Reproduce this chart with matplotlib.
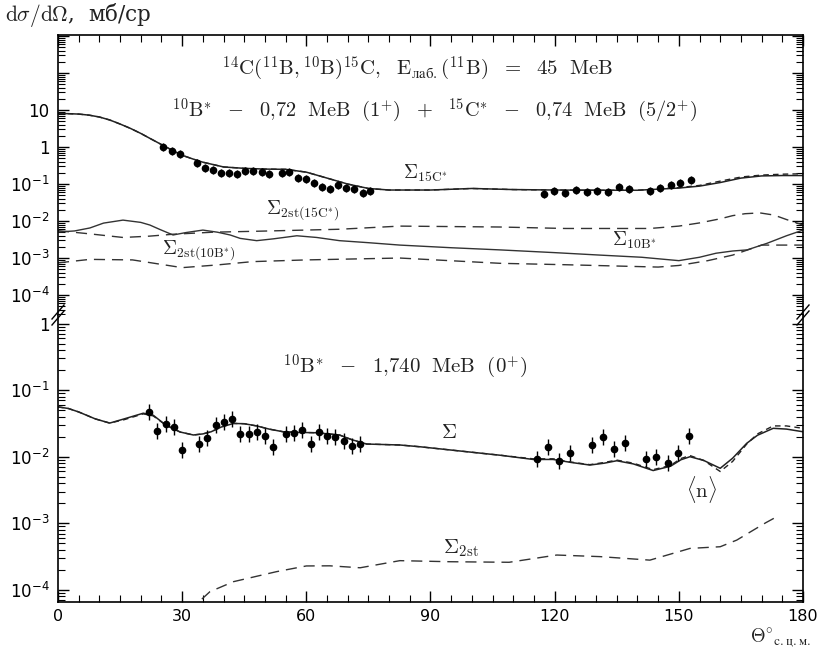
import numpy as np
import matplotlib
matplotlib.use("Agg")
import matplotlib.pyplot as plt
from matplotlib.ticker import FixedLocator, LogLocator, NullFormatter, FuncFormatter

# ---- upper panel: 10B* 0.72 MeV + 15C* 0.74 MeV ----
exp1_ang = [25.4, 27.5, 29.5, 33.5, 35.5, 37.4, 39.3, 41.2, 43.2, 45.2, 47.2, 49.2, 51.0,
            54.0, 55.9, 57.9, 59.9, 61.9, 63.8, 65.7, 67.7, 69.7, 71.6, 73.6, 75.4,
            117.4, 119.9, 122.5, 125.1, 127.7, 130.3, 133.0, 135.5, 138.0, 143.0, 145.5,
            148.0, 150.4, 152.9]
exp1_val = [1.02, 0.79, 0.65, 0.38, 0.265, 0.24, 0.20, 0.195, 0.187, 0.22, 0.224, 0.21, 0.187,
            0.20, 0.21, 0.143, 0.134, 0.108, 0.0845, 0.072, 0.094, 0.0766, 0.072, 0.056, 0.066,
            0.054, 0.066, 0.056, 0.069, 0.060, 0.065, 0.062, 0.082, 0.075, 0.066, 0.077,
            0.094, 0.104, 0.129]

sum1_ang = [0, 2.5, 5, 7.5, 10, 12.5, 15, 17.5, 20, 22.5, 25, 27.5, 30, 32.5, 35, 40, 45, 50,
            55, 60, 65, 70, 75, 80, 90, 100, 110, 120, 130, 140, 150, 155, 160, 165, 170,
            175, 180]
sum1_val = [8.1, 8.0, 7.8, 7.3, 6.5, 5.4, 4.2, 3.2, 2.34, 1.65, 1.17, 0.83, 0.6, 0.48, 0.39,
            0.29, 0.266, 0.254, 0.25, 0.21, 0.145, 0.1, 0.076, 0.069, 0.069, 0.076, 0.071,
            0.069, 0.068, 0.068, 0.078, 0.088, 0.11, 0.145, 0.166, 0.17, 0.17]
sum1d_val = [8.1, 8.0, 7.8, 7.3, 6.5, 5.4, 4.2, 3.2, 2.34, 1.65, 1.17, 0.83, 0.6, 0.48, 0.39,
             0.29, 0.266, 0.254, 0.25, 0.21, 0.145, 0.1, 0.076, 0.069, 0.069, 0.076, 0.071,
             0.069, 0.068, 0.068, 0.08, 0.092, 0.12, 0.155, 0.175, 0.185, 0.19]

s10b_ang = [0, 4, 7.7, 11, 15.7, 20, 22.2, 24.5, 27.8, 31, 35, 38.5, 41.6, 44, 48, 52, 57.7,
            62.5, 68, 75, 82.6, 95, 106.8, 120, 131, 141, 150, 155, 159, 163, 166.5, 171.3,
            176, 180]
s10b_val = [5.05e-3, 5.4e-3, 6.5e-3, 8.8e-3, 1.06e-2, 9.2e-3, 7.8e-3, 6.0e-3, 4.2e-3, 4.9e-3,
            5.7e-3, 5.0e-3, 4.2e-3, 3.4e-3, 2.95e-3, 3.3e-3, 4.0e-3, 3.6e-3, 2.95e-3, 2.6e-3,
            2.24e-3, 1.9e-3, 1.66e-3, 1.4e-3, 1.2e-3, 1.05e-3, 8.5e-4, 1.05e-3, 1.35e-3,
            1.55e-3, 1.66e-3, 2.5e-3, 4.0e-3, 5.7e-3]

s2st15c_ang = [0, 7.7, 15.7, 22, 27.8, 37.5, 48, 68, 82.6, 106.8, 122.5, 143, 150, 155, 160,
               163, 166, 169.6, 173, 176, 180]
s2st15c_val = [5.5e-3, 4.5e-3, 3.6e-3, 3.9e-3, 4.4e-3, 5.0e-3, 5.3e-3, 6.0e-3, 7.3e-3, 6.9e-3,
               6.3e-3, 6.3e-3, 7.3e-3, 8.9e-3, 1.15e-2, 1.4e-2, 1.58e-2, 1.66e-2, 1.45e-2,
               1.1e-2, 7.8e-3]

s2st10b_ang = [0, 7.7, 18, 24, 30, 38.4, 47, 60, 82.6, 106.8, 122.5, 145, 150, 157, 163, 170,
               180]
s2st10b_val = [7.4e-4, 9.2e-4, 8.9e-4, 7.0e-4, 5.5e-4, 6.5e-4, 8.0e-4, 8.9e-4, 1.0e-3, 7.2e-4,
               6.6e-4, 5.7e-4, 6.3e-4, 8.5e-4, 1.2e-3, 2.24e-3, 2.24e-3]

# ---- lower panel: 10B* 1.740 MeV ----
exp2_ang = [22.0, 24.0, 26.0, 27.95, 30.0, 34.1, 36.1, 38.1, 40.0, 42.0, 44.0, 46.1, 48.0,
            50.0, 52.0, 55.0, 57.0, 59.0, 61.1, 63.1, 65.1, 67.0, 69.0, 71.0, 73.0,
            115.7, 118.3, 121.0, 123.8, 129.1, 131.7, 134.3, 137.0, 142.1, 144.6, 147.3,
            149.9, 152.4]
exp2_val = [0.0474, 0.0243, 0.031, 0.0282, 0.0126, 0.0155, 0.0189, 0.030, 0.0336, 0.0365,
            0.0217, 0.0219, 0.0237, 0.0204, 0.0141, 0.0219, 0.0229, 0.0252, 0.0153, 0.0235,
            0.0204, 0.0195, 0.0174, 0.0145, 0.0155,
            0.0091, 0.0141, 0.0086, 0.0115, 0.0148, 0.020, 0.0131, 0.0162, 0.0093, 0.0099,
            0.0081, 0.0115, 0.0207]

sum2_ang = [0, 2.5, 5, 9, 12.5, 16, 20.6, 23, 26, 29.5, 32.7, 35, 37, 39.5, 42.4, 45, 48, 51,
            54.4, 58, 62.5, 68, 71, 74.6, 82.6, 87.5, 98.7, 107, 114.8, 119.6, 124, 128.5,
            132, 135, 139, 143.8, 148, 150.5, 152.7, 156, 160, 163, 166.4, 169, 172.8, 176,
            180]
sum2_val = [0.056, 0.053, 0.047, 0.037, 0.032, 0.037, 0.045, 0.042, 0.030, 0.0235, 0.0212,
            0.022, 0.0237, 0.028, 0.0316, 0.0313, 0.029, 0.026, 0.0237, 0.0232, 0.0229, 0.0212,
            0.018, 0.0155, 0.015, 0.0141, 0.0119, 0.0105, 0.0091, 0.0091, 0.0082, 0.0075,
            0.0080, 0.0087, 0.0078, 0.0062, 0.0072, 0.0090, 0.010, 0.0088, 0.0067, 0.0095,
            0.0159, 0.021, 0.0267, 0.026, 0.0237]
sum2d_val = [0.056, 0.053, 0.047, 0.037, 0.032, 0.036, 0.044, 0.041, 0.030, 0.0235, 0.0212,
             0.022, 0.0237, 0.028, 0.0316, 0.0313, 0.029, 0.026, 0.0237, 0.0232, 0.0229, 0.0212,
             0.018, 0.0155, 0.015, 0.0141, 0.0119, 0.0105, 0.0093, 0.0093, 0.0083, 0.0076,
             0.0082, 0.0089, 0.0080, 0.0064, 0.0074, 0.0094, 0.0104, 0.0088, 0.0060, 0.0085,
             0.0155, 0.022, 0.029, 0.029, 0.0267]

s2st_ang = [32, 34, 36.7, 42.4, 52.8, 60, 65.7, 73, 82.6, 94.7, 109, 120.5, 131, 143, 152.7,
            160, 164, 168, 171, 174.4]
s2st_val = [4.5e-5, 6.6e-5, 9.4e-5, 1.33e-4, 1.88e-4, 2.29e-4, 2.3e-4, 2.15e-4, 2.75e-4,
            2.65e-4, 2.6e-4, 3.34e-4, 3.16e-4, 2.8e-4, 4.2e-4, 4.45e-4, 5.6e-4, 7.9e-4,
            1.02e-3, 1.33e-3]

err_top = 1.28
err_bot = 1.32

W, H = 817, 653
fig = plt.figure(figsize=(W / 100, H / 100), dpi=100)

x0, x1 = 58, 803
y_top, y_brk, y_bot = 35, 315, 601.7
ax1 = fig.add_axes([x0 / W, 1 - y_brk / H, (x1 - x0) / W, (y_brk - y_top) / H])
ax2 = fig.add_axes([x0 / W, 1 - y_bot / H, (x1 - x0) / W, (y_bot - y_brk) / H])

dash = (8, 5)
lc = "#222222"

# upper panel
ax1.plot(sum1_ang, sum1_val, color=lc, lw=1.1)
ax1.plot(sum1_ang, sum1d_val, color=lc, lw=1.0, ls=(0, (4, 3)))
ax1.plot(s10b_ang, s10b_val, color="#333333", lw=1.0)
ax1.plot(s2st15c_ang, s2st15c_val, color="#333333", lw=1.0, ls=(0, dash))
ax1.plot(s2st10b_ang, s2st10b_val, color="#333333", lw=1.0, ls=(0, dash))
v = np.array(exp1_val)
ax1.errorbar(exp1_ang, v, yerr=[v - v / err_top, v * (err_top - 1)], fmt="o", ms=4.5,
             color="black", ecolor="black", elinewidth=1.0, capsize=0)

# lower panel
ax2.plot(sum2_ang, sum2_val, color=lc, lw=1.1)
ax2.plot(sum2_ang, sum2d_val, color=lc, lw=1.0, ls=(0, (4, 3)))
ax2.plot(s2st_ang, s2st_val, color="#333333", lw=1.0, ls=(0, dash))
v = np.array(exp2_val)
ax2.errorbar(exp2_ang, v, yerr=[v - v / err_bot, v * (err_bot - 1)], fmt="o", ms=4.5,
             color="black", ecolor="black", elinewidth=1.0, capsize=0)

ax1.set_yscale("log")
ax2.set_yscale("log")
ax1.set_ylim(10 ** -4.54, 10 ** 3.03)
ax2.set_ylim(10 ** -4.177, 10 ** 0.128)
for ax in (ax1, ax2):
    ax.set_xlim(0, 180)
    ax.xaxis.set_major_locator(FixedLocator([0, 30, 60, 90, 120, 150, 180]))
    ax.xaxis.set_minor_locator(FixedLocator(np.arange(0, 181, 5)))
    ax.yaxis.set_major_locator(LogLocator(base=10, numticks=20))
    ax.yaxis.set_minor_locator(LogLocator(base=10, subs=np.arange(2, 10), numticks=20))
    ax.yaxis.set_minor_formatter(NullFormatter())
    ax.tick_params(axis="y", which="major", direction="in", length=8, width=1,
                   left=True, right=True, labelsize=12, pad=6)
    ax.tick_params(axis="y", which="minor", direction="in", length=5, width=0.8,
                   left=True, right=True)
    ax.tick_params(axis="x", which="major", direction="in", length=8, width=1)
    ax.tick_params(axis="x", which="minor", direction="in", length=5, width=0.8)
    for s in ax.spines.values():
        s.set_linewidth(1.2)

ax1.spines["bottom"].set_visible(False)
ax2.spines["top"].set_visible(False)
ax1.tick_params(axis="x", which="both", bottom=False, top=True, labelbottom=False)
ax2.tick_params(axis="x", which="both", bottom=True, top=False, labelsize=11.5, pad=5)


def log_labels(ticks):
    def fmt(y, pos):
        for t in ticks:
            if abs(np.log10(y) - t) < 0.01:
                if t == 0:
                    return "1"
                if t == 1:
                    return "10"
                return r"$10^{%d}$" % t
        return ""
    return FuncFormatter(fmt)


ax1.yaxis.set_major_formatter(log_labels([-4, -3, -2, -1, 0, 1]))
ax2.yaxis.set_major_formatter(log_labels([-4, -3, -2, -1, 0]))


def px(x, y):
    return x / W, 1 - y / H


# break marks
for xc in (x0, x1):
    for dy in (-3, 3):
        xa, ya = px(xc - 6, y_brk + 7 + dy)
        xb, yb = px(xc + 6, y_brk - 7 + dy)
        fig.add_artist(plt.Line2D([xa, xb], [ya, yb], color="black", lw=1.0))

serif = "DejaVu Serif"
tk = dict(fontfamily=serif, math_fontfamily="cm", color="#222222")

fig.text(*px(5, 15), r"$\mathrm{d}\sigma/\mathrm{d}\Omega$,  мб/ср", fontsize=15.5, va="center", **tk)
fig.text(*px(418, 69),
         r"$^{14}\mathrm{C}(^{11}\mathrm{B},^{10}\mathrm{B})^{15}\mathrm{C},\ \ \mathrm{E}$"
         + "$_{\\mathrm{лаб.}}$" + r"$(^{11}\mathrm{B})\ \ =\ \ 45\ \ \mathrm{MeB}$",
         fontsize=15, ha="center", va="center", **tk)
fig.text(*px(435, 111),
         r"$^{10}\mathrm{B}^{*}\ \ -\ \ 0{,}72\ \ \mathrm{MeB}\ \ (1^{+})\ \ +\ \ ^{15}\mathrm{C}^{*}\ \ -\ \ 0{,}74\ \ \mathrm{MeB}\ \ (5/2^{+})$",
         fontsize=14.7, ha="center", va="center", **tk)
fig.text(*px(426, 173), r"$\Sigma_{\mathrm{15C}^{*}}$", fontsize=14, ha="center", va="center", **tk)
fig.text(*px(303, 210), r"$\Sigma_{\mathrm{2st(15C}^{*})}$", fontsize=14, ha="center", va="center", **tk)
fig.text(*px(199, 250), r"$\Sigma_{\mathrm{2st(10B}^{*})}$", fontsize=14, ha="center", va="center", **tk)
fig.text(*px(634, 240), r"$\Sigma_{\mathrm{10B}^{*}}$", fontsize=14, ha="center", va="center", **tk)
fig.text(*px(405, 367), r"$^{10}\mathrm{B}^{*}\ \ -\ \ 1{,}740\ \ \mathrm{MeB}\ \ (0^{+})$",
         fontsize=15, ha="center", va="center", **tk)
fig.text(*px(449, 432), r"$\Sigma$", fontsize=15, ha="center", va="center", **tk)
fig.text(*px(702, 490), r"$\langle\mathrm{n}\rangle$", fontsize=15, ha="center", va="center", **tk)
fig.text(*px(461, 548), r"$\Sigma_{\mathrm{2st}}$", fontsize=15, ha="center", va="center", **tk)
fig.text(*px(781, 638), r"$\Theta^{\circ}$" + "$_{\\mathrm{с.ц.м.}}$", fontsize=13.5, ha="center",
         va="center", **tk)

fig.savefig("out.png", dpi=100)
